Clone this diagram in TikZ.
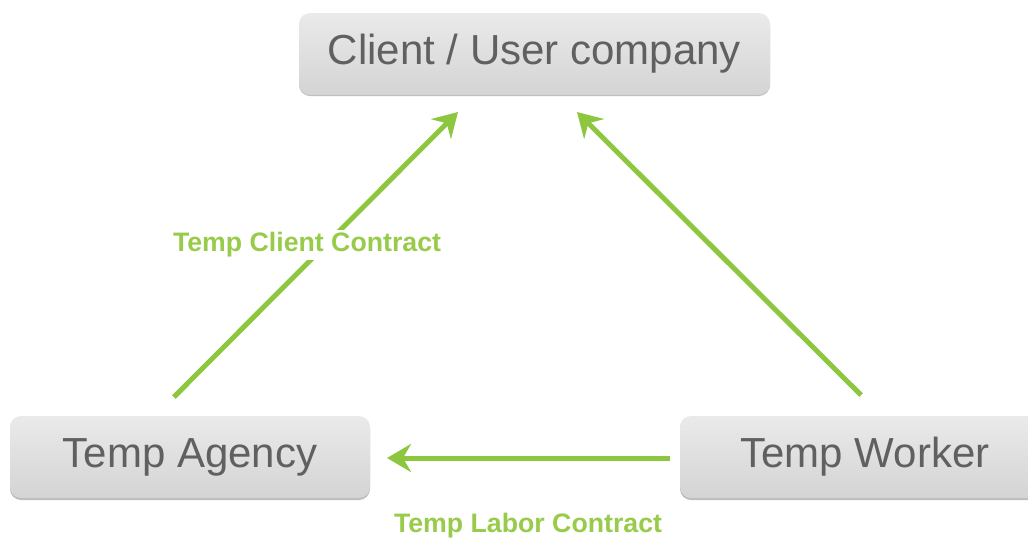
\documentclass[tikz,border=0pt]{standalone}
\usepackage{fontspec}
\setmainfont{Liberation Sans}
\usetikzlibrary{arrows.meta,calc}
\definecolor{leaf}{HTML}{8DC63F}
\definecolor{leaflabel}{HTML}{98CB4A}
\definecolor{boxtext}{HTML}{606060}
\definecolor{boxtop}{HTML}{EAEAEA}
\definecolor{boxbottom}{HTML}{D4D4D4}
\definecolor{boxshade}{HTML}{BDBDBD}
\tikzset{
  party/.style={rounded corners=11pt, top color=boxtop, bottom color=boxbottom,
    draw=none, text=boxtext, font=\fontsize{42}{46}\selectfont,
    inner sep=0pt, minimum height=82pt},
  shade under/.style={fill=boxshade, rounded corners=11pt, draw=none},
  link/.style={draw=leaf, line width=5pt,
    -{Stealth[length=24pt,width=28pt,inset=8pt]}},
  tag/.style={text=leaflabel, font=\bfseries\fontsize{26.7}{30}\selectfont,
    fill=white, inner sep=3pt}
}
\begin{document}
\begin{tikzpicture}[x=1pt,y=-1pt]
  \useasboundingbox (0,0) rectangle (1028,542);
  \clip (0,0) rectangle (1028,542);
  % soft darker rims below each box
  \fill[shade under] (299,15) rectangle (770,96);
  \fill[shade under] (10,418) rectangle (370,500);
  \fill[shade under] (680,418) rectangle (1050,500);
  % the three parties
  \node[party, minimum width=471pt] (client) at (534.5,54) {Client / User company};
  \node[party, minimum width=360pt] (agency) at (190,457) {Temp Agency};
  \node[party, minimum width=370pt] (worker) at (865,457) {Temp Worker};
  % arrow ends
  \coordinate (agencyout) at (174,397);
  \coordinate (clientinl) at (458,112);
  \coordinate (workerup) at (861,395);
  \coordinate (clientinr) at (577,112);
  \coordinate (workerout) at (670,458);
  \coordinate (agencyin) at (387,458);
  % contracts
  \draw[link] (agencyout) -- (clientinl);
  \draw[link] (workerup) -- (clientinr);
  \draw[link] (workerout) -- (agencyin);
  \node[tag] (clientcontract) at (307,245) {Temp Client Contract};
  \node[tag] (laborcontract) at (528,526) {Temp Labor Contract};
\end{tikzpicture}
\end{document}
